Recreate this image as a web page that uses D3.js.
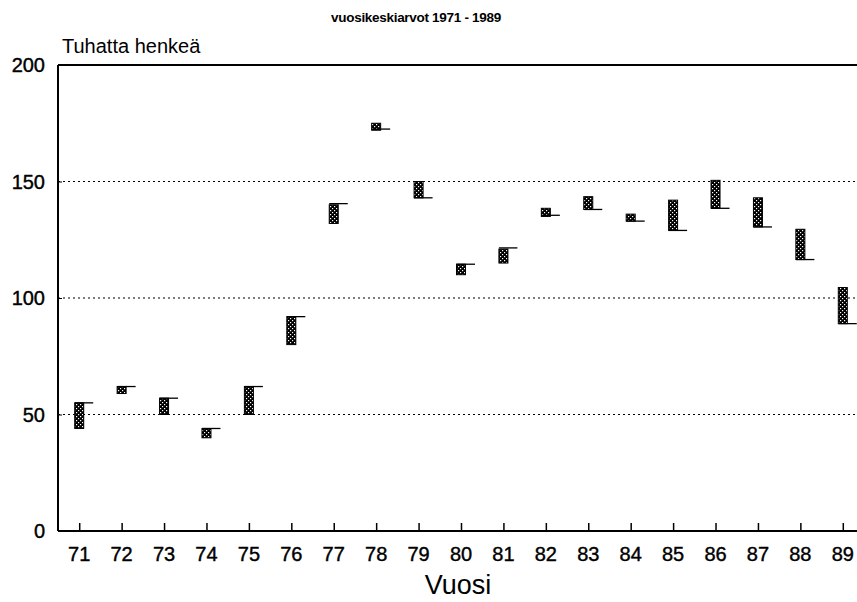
<!DOCTYPE html>
<html>
<head>
<meta charset="utf-8">
<script src="https://cdn.jsdelivr.net/npm/d3@7"></script>
<style>
  body { margin: 0; background: #fff; }
  text { font-family: "Liberation Sans", Arial, sans-serif; fill: #000; }
</style>
</head>
<body>
<script>
// vuosikeskiarvot, tuhatta henkeä
const years = [71, 72, 73, 74, 75, 76, 77, 78, 79, 80, 81, 82, 83, 84, 85, 86, 87, 88, 89];
const lowValues  = [44, 59, 50, 40, 50, 80, 132, 172, 143, 110, 115, 135, 138, 133, 129, 138.5, 130.5, 116.5, 89];
const highValues = [55, 62, 57, 44, 62, 92, 140, 175, 150, 114.5, 121, 138.5, 143.5, 136, 142, 150.5, 143, 129.5, 104.5];
const markValues = [55, 62, 57, 44, 62, 92, 140.5, 172.5, 143, 114.5, 121.5, 135.5, 138, 133, 129, 138.5, 130.5, 116.5, 89];
const yTicks = [0, 50, 100, 150, 200];

const width = 857,
    height = 602;

const svg = d3.select('body').append('svg')
    .attr('width', width)
    .attr('height', height);

const defs = svg.append("defs");
const pat = defs.append("pattern")
    .attr("id", "dots")
    .attr("patternUnits", "userSpaceOnUse")
    .attr("width", 4).attr("height", 4);
pat.append("rect").attr("width", 4).attr("height", 4).attr("fill", "#000");
pat.append("rect").attr("x", 0).attr("y", 0).attr("width", 1.2).attr("height", 1.2).attr("fill", "#fff");
pat.append("rect").attr("x", 2).attr("y", 2).attr("width", 1.2).attr("height", 1.2).attr("fill", "#fff");

const x = d3.scaleLinear().domain([70.5, 89.5]).range([58, 864]);
const y = d3.scaleLinear().domain([0, 200]).range([531, 65]);

// title
svg.append("text")
    .attr("x", 416).attr("y", 22)
    .attr("text-anchor", "middle")
    .style("font-size", "13.5px")
    .style("font-weight", "bold")
    .style("letter-spacing", "-0.3px")
    .text("vuosikeskiarvot 1971 - 1989");

svg.append("text")
    .attr("x", 62).attr("y", 53)
    .style("font-size", "20px")
    .text("Tuhatta henkeä");

// gridlines
svg.append("g").selectAll("line")
    .data(yTicks.filter(d => d > 0 && d < 200))
    .enter().append("line")
    .attr("x1", x.range()[0]).attr("x2", width)
    .attr("y1", d => y(d)).attr("y2", d => y(d))
    .attr("stroke", "#000")
    .attr("stroke-width", 1.2)
    .attr("stroke-dasharray", "2,3");

// frame: top line, left axis, bottom axis
svg.append("line")
    .attr("x1", x.range()[0]).attr("x2", width)
    .attr("y1", y(200)).attr("y2", y(200))
    .attr("stroke", "#000").attr("stroke-width", 2);

const yAxis = svg.append("g")
    .attr("transform", "translate(" + x.range()[0] + ",0)")
    .call(d3.axisRight(y).tickValues(yTicks).tickSize(4).tickFormat(""));
yAxis.select(".domain").attr("stroke-width", 2).attr("d", "M0," + y(0) + "V" + y(200));

svg.append("g").selectAll("text")
    .data(yTicks)
    .enter().append("text")
    .attr("x", 45).attr("y", d => y(d) + 7)
    .attr("text-anchor", "end")
    .style("font-size", "20px")
    .style("stroke", "#000").style("stroke-width", 0.4)
    .text(d => d);

const xAxis = svg.append("g")
    .attr("transform", "translate(0," + y(0) + ")")
    .call(d3.axisTop(x).tickValues(years).tickSize(8).tickFormat(""));
xAxis.select(".domain").attr("stroke-width", 2).attr("d", "M" + x.range()[0] + ",0H" + width);
xAxis.selectAll(".tick line").attr("stroke-width", 1.5);

svg.append("g").selectAll("text")
    .data(years)
    .enter().append("text")
    .attr("x", d => x(d)).attr("y", 561)
    .attr("text-anchor", "middle")
    .style("font-size", "20px")
    .style("stroke", "#000").style("stroke-width", 0.4)
    .text(d => d);

svg.append("text")
    .attr("x", 458).attr("y", 594)
    .attr("text-anchor", "middle")
    .style("font-size", "27px")
    .text("Vuosi");

// bars
const barW = 9;
const marks = svg.append("g");
years.forEach((yr, i) => {
  marks.append("rect")
      .attr("x", x(yr) - barW / 2)
      .attr("y", y(highValues[i]))
      .attr("width", barW)
      .attr("height", y(lowValues[i]) - y(highValues[i]))
      .attr("fill", "url(#dots)")
      .attr("stroke", "#000")
      .attr("stroke-width", 1);
  marks.append("line")
      .attr("x1", x(yr) - barW / 2).attr("x2", x(yr) + 14)
      .attr("y1", y(markValues[i])).attr("y2", y(markValues[i]))
      .attr("stroke", "#000")
      .attr("stroke-width", 1.3);
});
</script>
</body>
</html>
